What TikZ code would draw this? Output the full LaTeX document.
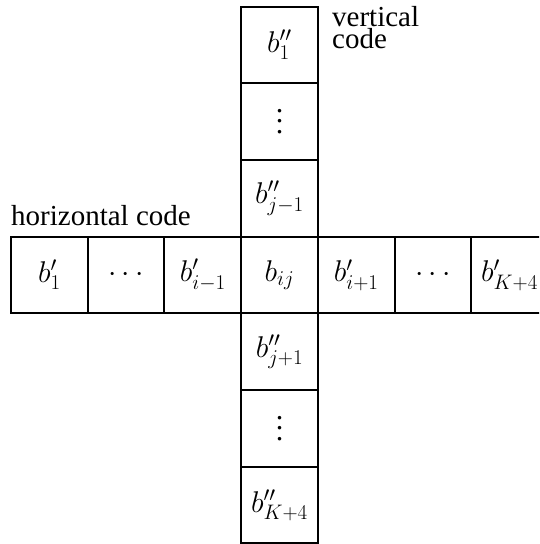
\documentclass[tikz,border=0pt]{standalone}
\usepackage{fix-cm}
\usepackage{fontspec}
\setmainfont{Liberation Serif}
\newcommand{\myvdots}{\vbox{\baselineskip=10.5pt\lineskiplimit=0pt\hbox{.}\hbox{.}\hbox{.}}}
\begin{document}
\begin{tikzpicture}[x=1pt,y=-1pt,
  cell/.style={draw=black, line width=2pt, minimum width=76.7pt, minimum height=76.7pt,
    inner sep=0pt, font=\fontsize{30}{30}\selectfont},
  lbl/.style={inner sep=0pt, font=\fontsize{29}{22}\selectfont, align=left}]
\useasboundingbox (0,0) rectangle (539,544);
\clip (0,0) rectangle (539,544);
% horizontal row
\node[cell] (h1) at (49.4,275) {$b'_1$};
\node[cell] (h2) at (126.1,275) {$\cdots$};
\node[cell] (h3) at (202.8,275) {$b'_{i-1}$};
\node[cell] (c)  at (279.5,275) {$b_{ij}$};
\node[cell] (h5) at (356.2,275) {$b'_{i+1}$};
\node[cell] (h6) at (432.9,275) {$\cdots$};
\node[cell] (h7) at (509.6,275) {$b'_{K+4}$};
% vertical column
\node[cell] (v1) at (279.5,44.9) {$b''_1$};
\node[cell] (v2) at (279.5,121.6) {\myvdots};
\node[cell] (v3) at (279.5,198.3) {$b''_{j-1}$};
\node[cell] (v5) at (279.5,351.7) {$b''_{j+1}$};
\node[cell] (v6) at (279.5,428.4) {\myvdots};
\node[cell] (v7) at (279.5,505.1) {$b''_{K+4}$};
% labels
\node[lbl, anchor=base west] (hl) at (11,225) {horizontal code};
\node[lbl, anchor=base west] (vl) at (332,48) {vertical\\code};
\end{tikzpicture}
\end{document}
